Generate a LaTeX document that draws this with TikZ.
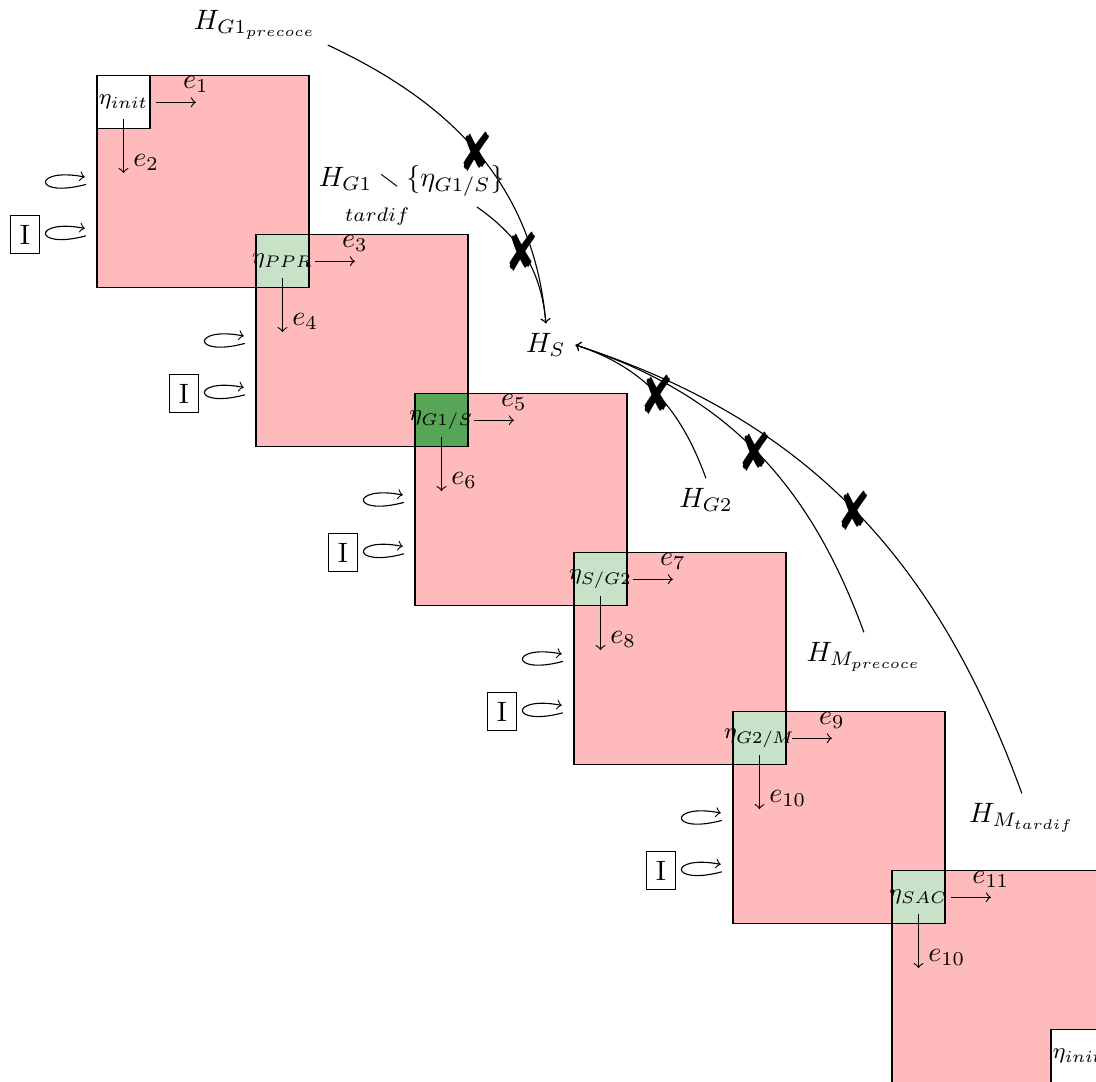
\documentclass[tikz,border=0pt]{standalone}
\usepackage{amsmath,amssymb,mathtools}
\usepackage{pifont}
\definecolor{cellpink}{RGB}{255,187,187}
\definecolor{phaselight}{RGB}{200,226,200}
\definecolor{phasedark}{RGB}{87,166,87}
\tikzset{
  phase/.style={draw, minimum size=0.665cm, inner sep=0pt},
  nope/.style={font=\fontsize{15}{15}\selectfont, inner sep=0pt}
}
\newcommand{\nopemark}{\scalebox{1}[1.3]{\ding{56}}}

\begin{document}
\begin{tikzpicture}[x=0.665cm, y=0.665cm]
  \useasboundingbox (-1.83,1.43) rectangle (18.85,-18.98);
  \clip (-1.83,1.43) rectangle (18.85,-18.98);

  % Phases du cycle
  \foreach \i/\ph/\ea/\eb/\col in {0/init/1/2/white, 1/PPR/3/4/phaselight,
      2/{G1/S}/5/6/phasedark, 3/{S/G2}/7/8/phaselight,
      4/{G2/M}/9/10/phaselight, 5/SAC/11/10/phaselight} {
    \begin{scope}[shift={(3*\i,-3*\i)}]
      \draw[fill=cellpink] (0,0) rectangle (4,-4);
      \node[phase, fill=\col] (ph\i) at (0.5,-0.5) {};
      \node[inner sep=0pt, font=\footnotesize] (eta\i) at (ph\i) {$\eta_{\ph}$};
      \draw[->] ([xshift=2pt]ph\i.east) -- ++(0.75,0) node[above] {$e_{\ea}$};
      \draw[->] ([yshift=-6pt]ph\i.center) -- ++(0,-1.02)
        node[pos=0.8, right] {$e_{\eb}$};
    \end{scope}
  }
  \node[phase, fill=white] (phEnd) at (18.5,-18.5) {};
  \node[inner sep=0pt, font=\footnotesize] (etaEnd) at (phEnd) {$\eta_{init}$};

  % Boucles et I
  \foreach \i in {0,...,4} {
    \begin{scope}[shift={(3*\i,-3*\i)}]
      \foreach \dy in {0,-0.97}
        \draw[->, shift={(0,\dy)}] (-0.21,-2.05) .. controls (-1.22,-2.32)
          and (-1.22,-1.72) .. (-0.23,-1.91);
      \node[draw] (in\i) at (-1.36,-3.0) {I};
    \end{scope}
  }

  % Hypotheses
  \node (Hg1p) at (2.98,0.96) {$H_{G1_{precoce}}$};
  \node[anchor=base west] (Hg1t) at (4.0,-2.08)
    {$H_{\mathrlap{\hspace{1pt}\raisebox{-11pt}{$\scriptstyle tardif$}}G1}%
      \smallsetminus\{\eta_{G1/S}\}$};
  \node (Hs) at (8.47,-5.08) {$H_S$};
  \node (Hg2) at (11.49,-8.0) {$H_{G2}$};
  \node (Hmp) at (14.47,-10.96) {$H_{M_{precoce}}$};
  \node (Hmt) at (17.45,-14.0) {$H_{M_{tardif}}$};

  \draw[->] ([shift={(0.7pt,1.5pt)}]Hg1p.south east) to[out=-25, in=95]
    node[nope, pos=0.49] {\nopemark} (Hs.north);
  \draw[->] ([shift={(-13.4pt,-7.5pt)}]Hg1t.base east) to[out=-35, in=95]
    node[nope, pos=0.45] {\nopemark} (Hs.north);
  \draw[->] (Hg2.north) to[out=110, in=-18]
    node[nope, pos=0.5] {\nopemark} (Hs.east);
  \draw[->] (Hmp.north) to[out=110, in=-18]
    node[nope, pos=0.5] {\nopemark} (Hs.east);
  \draw[->] (Hmt.north) to[out=110, in=-18]
    node[nope, pos=0.5] {\nopemark} (Hs.east);
\end{tikzpicture}
\end{document}
